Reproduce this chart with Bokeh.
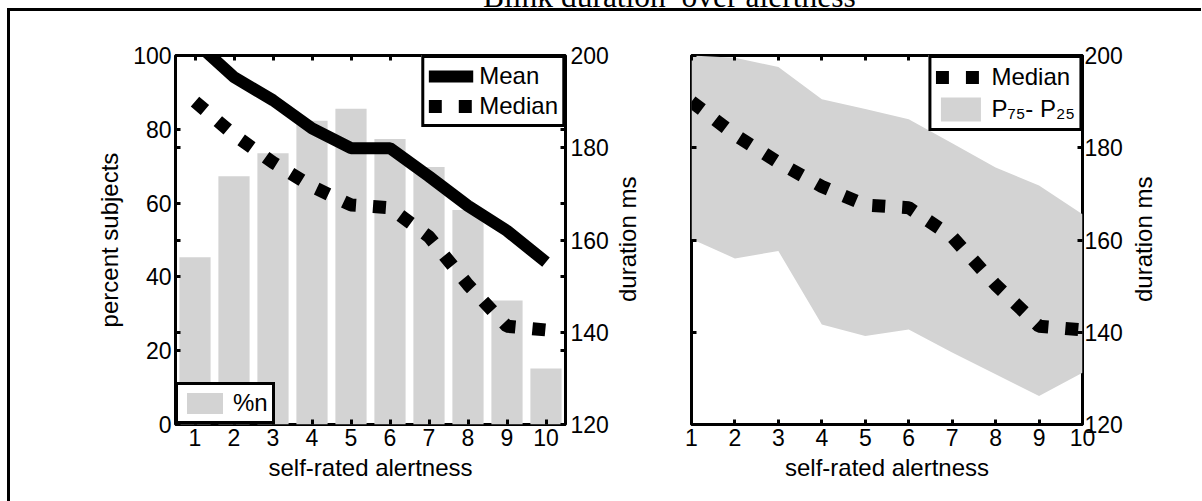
import math
from bokeh.plotting import figure
from bokeh.models import (Range1d, LinearAxis, Legend, Div, FixedTicker, Spacer,
                          CustomJSTickFormatter)
from bokeh.layouts import row, column
from bokeh.embed import file_html
from bokeh.resources import INLINE

# ---- data ----
alertness = [1, 2, 3, 4, 5, 6, 7, 8, 9, 10]
pct_subjects = [45.3, 67.3, 73.5, 82.3, 85.6, 77.4, 69.8, 58.1, 33.6, 15.2]
mean_ms = [203.0, 195.3, 190.3, 184.2, 179.9, 179.9, 173.8, 167.4, 162.0, 155.2]
median_ms = [190.0, 182.8, 176.8, 171.6, 167.6, 167.0, 160.7, 150.3, 141.3, 140.5]
p75_ms = [200.0, 199.5, 197.5, 190.5, 188.4, 186.2, 181.0, 175.7, 171.8, 165.6]
p25_ms = [160.2, 156.0, 157.6, 141.7, 139.2, 140.6, 135.6, 130.9, 126.2, 131.2]
pct_ticks = [0, 20, 40, 60, 80, 100]
dur_ticks = [120, 140, 160, 180, 200]
# unlabelled ticks of the other y axis, seen on the opposite side of the left panel
pct_side_ticks = [25, 50, 75]
dur_side_ticks = [136, 152, 168, 184]

title_text = "Blink duration&nbsp; over alertness"
dur_label = "duration ms"
FONT = "Liberation Sans"
GRAY = "#d3d3d3"


def style_axis(ax, show_labels=True):
    ax.axis_line_color = None
    ax.major_tick_in = 5
    ax.major_tick_out = 0
    ax.major_tick_line_width = 3
    ax.major_tick_line_color = "black"
    ax.minor_tick_in = 5
    ax.minor_tick_out = 0
    ax.minor_tick_line_width = 3
    ax.minor_tick_line_color = "black"
    ax.major_label_text_font = FONT
    ax.major_label_text_font_size = "23px"
    ax.major_label_text_color = "black"
    ax.major_label_standoff = 4
    ax.axis_label_text_font = FONT
    ax.axis_label_text_font_size = "24px"
    ax.axis_label_text_font_style = "normal"
    ax.axis_label_text_color = "black"
    if not show_labels:
        ax.formatter = CustomJSTickFormatter(code="return ''")


def base_fig(width, xr, yr, left, right):
    p = figure(width=width, height=490, x_range=xr, y_range=yr,
               output_backend="svg", toolbar_location=None,
               min_border_left=left, min_border_right=right,
               min_border_top=44, min_border_bottom=77)
    p.grid.visible = False
    p.outline_line_color = "black"
    p.outline_line_width = 3
    p.background_fill_color = "white"
    p.border_fill_color = "white"
    p.xaxis.ticker = FixedTicker(ticks=alertness)
    top = LinearAxis(ticker=FixedTicker(ticks=alertness))
    p.add_layout(top, "above")
    return p


def style_legend(lg, gw, gh):
    lg.margin = 0
    lg.padding = 4
    lg.spacing = 2
    lg.border_line_color = "black"
    lg.border_line_width = 3
    lg.border_line_alpha = 1
    lg.background_fill_color = "white"
    lg.background_fill_alpha = 1
    lg.label_text_font = FONT
    lg.label_text_font_size = "24px"
    lg.label_text_color = "black"
    lg.glyph_width = gw
    lg.glyph_height = gh
    lg.label_standoff = 6


def side_label(width):
    # vertical label reading bottom-to-top, centred on the plot frame
    return Div(text=dur_label, width=width, height=457, margin=0,
               styles={"writing-mode": "vertical-rl", "transform": "rotate(180deg)",
                       "text-align": "center", "font-family": FONT,
                       "font-size": "24px", "line-height": f"{width}px",
                       "color": "black", "white-space": "nowrap"})


# ---- left panel ----
p1 = base_fig(604, Range1d(0.5, 10.5), Range1d(0, 100), 165, 49)
p1.extra_y_ranges = {"dur": Range1d(120, 200)}
bars = p1.vbar(x=alertness, top=pct_subjects, width=0.8, fill_color=GRAY, line_color=None)
mean_r = p1.line(alertness, mean_ms, y_range_name="dur", line_width=12, line_color="black")
med_r = p1.line(alertness, median_ms, y_range_name="dur", line_width=13,
                line_dash="13 17", line_color="black", line_cap="butt")
p1.yaxis.ticker = FixedTicker(ticks=pct_ticks, minor_ticks=pct_side_ticks)
p1.left[0].axis_label = "percent subjects"
p1.below[0].axis_label = "self-rated alertness"
r1 = LinearAxis(y_range_name="dur", ticker=FixedTicker(ticks=dur_ticks, minor_ticks=dur_side_ticks))
p1.add_layout(r1, "right")
for ax in p1.xaxis + p1.yaxis:
    style_axis(ax)
style_axis(p1.above[0], show_labels=False)
r1.major_label_standoff = 5
p1.left[0].axis_label_standoff = 7

leg1 = Legend(items=[("Mean", [mean_r]), ("Median", [med_r])], location="top_right")
leg2 = Legend(items=[("%n", [bars])], location="bottom_left")
style_legend(leg1, 45, 26)
style_legend(leg2, 45, 26)
p1.add_layout(leg1)
p1.add_layout(leg2)

# ---- right panel ----
p2 = base_fig(486, Range1d(1, 10), Range1d(120, 200), 50, 45)
band = p2.varea(x=alertness, y1=p25_ms, y2=p75_ms, fill_color=GRAY)
med2 = p2.line(alertness, median_ms, line_width=13, line_dash="13 17",
               line_color="black", line_cap="butt")
p2.yaxis.ticker = FixedTicker(ticks=dur_ticks)
p2.below[0].axis_label = "self-rated alertness"
r2 = LinearAxis(ticker=FixedTicker(ticks=dur_ticks))
p2.add_layout(r2, "right")
for ax in p2.xaxis + p2.yaxis:
    style_axis(ax)
style_axis(p2.above[0], show_labels=False)
style_axis(p2.left[0], show_labels=False)
r2.major_label_standoff = 2

leg3 = Legend(items=[("Median", [med2]), ("P\u2087\u2085- P\u2082\u2085", [band])],
              location="top_right")
style_legend(leg3, 50, 30)
p2.add_layout(leg3)

title_div = Div(text=title_text, width=520, height=18, margin=(-10, 0, 0, 483),
                styles={"font-family": "Liberation Serif", "font-size": "31.5px",
                        "text-align": "left", "line-height": "14px",
                        "white-space": "nowrap", "overflow": "visible"})
body = row(p1, side_label(27), p2, side_label(34), Spacer(width=40, height=10, margin=0),
           margin=(0, 0, 0, 7),
           styles={"border-top": "3px solid black", "border-left": "3px solid black"})
layout = column(title_div, body)

open("out.html", "w").write(file_html(layout, INLINE))
